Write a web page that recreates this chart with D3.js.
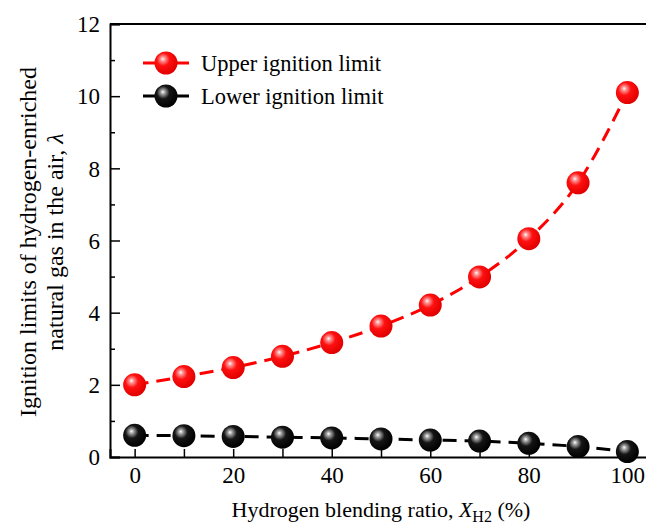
<!DOCTYPE html>
<html>
<head>
<meta charset="utf-8">
<script src="https://cdn.jsdelivr.net/npm/d3@7"></script>
<style>
  body { margin: 0; background: #fff; }
  svg { display: block; font-family: "Liberation Serif", "Times New Roman", serif; }
</style>
</head>
<body>
<svg id="chart" width="646" height="527"></svg>
<script>
const ratios = [0, 10, 20, 30, 40, 50, 60, 70, 80, 90, 100];
const upperLimit = [2.0, 2.23, 2.48, 2.79, 3.17, 3.63, 4.21, 4.99, 6.05, 7.6, 10.1];
const lowerLimit = [0.6, 0.59, 0.57, 0.55, 0.53, 0.5, 0.47, 0.44, 0.38, 0.29, 0.15];
const xTicks = [0, 20, 40, 60, 80, 100];
const yTicks = [0, 2, 4, 6, 8, 10, 12];

const margin = { top: 24, left: 110 };
const plotW = 542, plotH = 433;

const svg = d3.select("#chart");

const x = d3.scaleLinear().domain([-5, 105]).range([margin.left, margin.left + plotW]);
const y = d3.scaleLinear().domain([0, 12]).range([margin.top + plotH, margin.top]);

// gradients for the shaded balls
const defs = svg.append("defs");
function ball(id, light, mid, dark) {
  const g = defs.append("radialGradient").attr("id", id)
    .attr("cx", "40%").attr("cy", "38%").attr("r", "62%")
    .attr("fx", "36%").attr("fy", "32%");
  g.append("stop").attr("offset", "0%").attr("stop-color", "#fff");
  g.append("stop").attr("offset", "14%").attr("stop-color", light);
  g.append("stop").attr("offset", "45%").attr("stop-color", mid);
  g.append("stop").attr("offset", "100%").attr("stop-color", dark);
}
ball("ballRed", "#ff9a9a", "#ff1010", "#e00000");
ball("ballBlack", "#a8a8a8", "#151515", "#000");

// axes (ticks inward)
const xAxis = d3.axisBottom(x).tickValues(ratios).tickSize(-8).tickPadding(10)
  .tickFormat(d => xTicks.includes(d) ? d : "");
const yAxis = d3.axisLeft(y).tickValues(d3.range(0, 13, 1)).tickSize(-10).tickPadding(10)
  .tickFormat(d => yTicks.includes(d) ? d : "");

const gx = svg.append("g").attr("transform", `translate(0,${margin.top + plotH})`).call(xAxis);
const gy = svg.append("g").attr("transform", `translate(${margin.left},0)`).call(yAxis);
[gx, gy].forEach(g => {
  g.select(".domain").attr("stroke", "#000").attr("stroke-width", 2);
  g.selectAll(".tick line").attr("stroke", "#000").attr("stroke-width", 1.5);
  g.selectAll(".tick text").attr("font-size", 23).attr("font-family", "Liberation Serif").attr("fill", "#000");
});
gy.selectAll(".tick").filter(d => d % 2 === 1).select("line").attr("x2", 5);
gy.selectAll(".tick text").attr("dy", "0.34em");

// top and right frame
svg.append("line").attr("x1", margin.left).attr("x2", margin.left + plotW)
  .attr("y1", margin.top).attr("y2", margin.top).attr("stroke", "#000").attr("stroke-width", 2);
svg.append("line").attr("x1", margin.left + plotW).attr("x2", margin.left + plotW)
  .attr("y1", margin.top).attr("y2", margin.top + plotH).attr("stroke", "#000").attr("stroke-width", 2);

const line = d3.line().x(d => x(d[0])).y(d => y(d[1])).curve(d3.curveMonotoneX);

const series = [
  { vals: upperLimit, color: "#ff0000", fill: "url(#ballRed)" },
  { vals: lowerLimit, color: "#000", fill: "url(#ballBlack)" }
];

series.forEach(s => {
  const pts = ratios.map((r, i) => [r, s.vals[i]]);
  svg.append("path").datum(pts).attr("d", line)
    .attr("fill", "none").attr("stroke", s.color).attr("stroke-width", 3)
    .attr("stroke-dasharray", "14,8");
  svg.append("g").selectAll("circle").data(pts).join("circle")
    .attr("cx", d => x(d[0])).attr("cy", d => y(d[1])).attr("r", 11.5)
    .attr("fill", s.fill);
});

// legend
const legend = [
  { label: "Upper ignition limit", s: series[0], yy: 63 },
  { label: "Lower ignition limit", s: series[1], yy: 96 }
];
legend.forEach(l => {
  svg.append("line").attr("x1", 143).attr("x2", 189).attr("y1", l.yy).attr("y2", l.yy)
    .attr("stroke", l.s.color).attr("stroke-width", 3);
  svg.append("circle").attr("cx", 166).attr("cy", l.yy).attr("r", 11.5).attr("fill", l.s.fill);
  svg.append("text").attr("x", 201).attr("y", l.yy + 8).attr("font-size", 22.5).text(l.label);
});

// axis titles
const xt = svg.append("text").attr("x", 381).attr("y", 517).attr("text-anchor", "middle").attr("font-size", 22);
xt.append("tspan").text("Hydrogen blending ratio, ");
xt.append("tspan").attr("font-style", "italic").text("X");
xt.append("tspan").attr("font-size", 16).attr("dy", 5).text("H2");
xt.append("tspan").attr("dy", -5).text(" (%)");

const yt = svg.append("text").attr("transform", "translate(0,242) rotate(-90)")
  .attr("text-anchor", "middle").attr("font-size", 24);
yt.append("tspan").attr("x", 0).attr("y", 36).text("Ignition limits of hydrogen-enriched");
const l2 = yt.append("tspan").attr("x", 0).attr("y", 63);
l2.append("tspan").text("natural gas in the air, ");
l2.append("tspan").attr("font-style", "italic").text("λ");
</script>
</body>
</html>
